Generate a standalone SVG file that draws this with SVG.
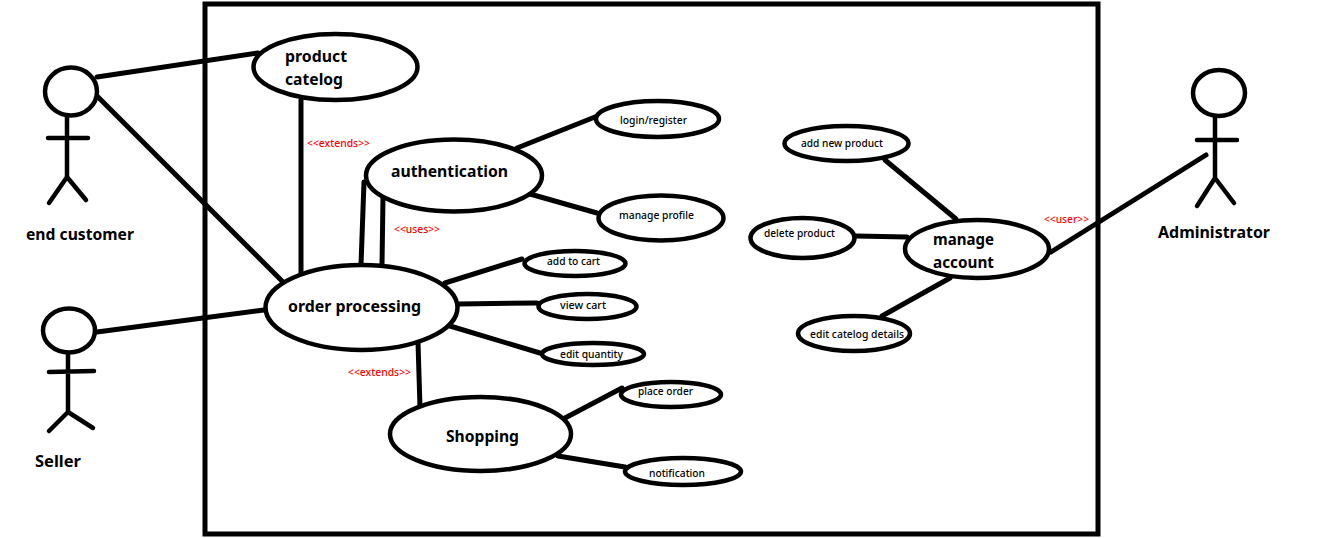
<svg xmlns="http://www.w3.org/2000/svg" width="1319" height="538" viewBox="0 0 1319 538">
<style>
.bg{fill:#fff}
.frame{fill:none;stroke:#000;stroke-width:5}
.c line{stroke:#000;stroke-width:5;stroke-linecap:round}
.n ellipse{fill:#fff;stroke:#000;stroke-width:4.5}
.a ellipse{fill:#fff;stroke:#000;stroke-width:4.5}
.a path{fill:none;stroke:#000;stroke-width:4.5;stroke-linecap:round;stroke-linejoin:round}
text{font-family:"Noto Sans","Open Sans","Liberation Sans",sans-serif;fill:#000}
.l{font-size:16px;font-weight:700}
.s{font-size:10.5px;font-weight:500}
.r{font-size:10.5px;font-weight:500;fill:#f00}
</style>
<rect class="bg" width="1319" height="538"/>
<rect id="system-boundary" class="frame" x="205" y="4" width="893" height="530"/>
<g id="connectors" class="c">
<line x1="97" y1="77" x2="258" y2="53"/>
<line x1="97" y1="96" x2="283" y2="282"/>
<line x1="301" y1="100" x2="301" y2="277"/>
<line x1="97" y1="332" x2="264" y2="310"/>
<line x1="364" y1="182" x2="361" y2="265"/>
<line x1="383" y1="197" x2="382" y2="265"/>
<line x1="517" y1="148" x2="595" y2="117"/>
<line x1="530" y1="194" x2="597" y2="213"/>
<line x1="445" y1="283" x2="522" y2="259"/>
<line x1="459" y1="304" x2="537" y2="303"/>
<line x1="450" y1="326" x2="540" y2="353"/>
<line x1="418" y1="342" x2="420" y2="408"/>
<line x1="565" y1="418" x2="622" y2="388"/>
<line x1="558" y1="456" x2="625" y2="467"/>
<line x1="885" y1="160" x2="956" y2="219"/>
<line x1="856" y1="236" x2="907" y2="237"/>
<line x1="882" y1="316" x2="950" y2="278"/>
<line x1="1051" y1="252" x2="1206" y2="155"/>
</g>
<g id="end-customer" class="a">
<ellipse cx="71" cy="91.5" rx="26" ry="24"/>
<path d="M67 116V177M48 138H88M67 177L49 203M67 177L86 200"/>
<text class="l" x="26" y="240" textLength="108" lengthAdjust="spacingAndGlyphs">end customer</text>
</g>
<g id="seller" class="a">
<ellipse cx="69" cy="330.5" rx="26" ry="22"/>
<path d="M68 353V412M49 372L94 371M68 412L49 431M68 412L93 428"/>
<text class="l" x="35" y="467" textLength="46" lengthAdjust="spacingAndGlyphs">Seller</text>
</g>
<g id="administrator" class="a">
<ellipse cx="1219" cy="93" rx="26" ry="23"/>
<path d="M1215 116V178M1197 140H1237M1215 178L1197 206M1215 178L1234 203"/>
<text class="l" x="1158" y="238" textLength="112" lengthAdjust="spacingAndGlyphs">Administrator</text>
</g>
<g id="product-catelog" class="n">
<ellipse cx="335.5" cy="67" rx="82" ry="33"/>
<text class="l" x="285" y="62" textLength="62" lengthAdjust="spacingAndGlyphs">product</text>
<text class="l" x="285" y="85" textLength="58" lengthAdjust="spacingAndGlyphs">catelog</text>
</g>
<g id="authentication" class="n">
<ellipse cx="454" cy="175.5" rx="88" ry="36"/>
<text class="l" x="391" y="177" textLength="117" lengthAdjust="spacingAndGlyphs">authentication</text>
</g>
<g id="order-processing" class="n">
<ellipse cx="361.5" cy="307.5" rx="96" ry="42.5"/>
<text class="l" x="288" y="312" textLength="133" lengthAdjust="spacingAndGlyphs">order processing</text>
</g>
<g id="shopping" class="n">
<ellipse cx="480.5" cy="434" rx="90.5" ry="37"/>
<text class="l" x="446" y="442" textLength="73" lengthAdjust="spacingAndGlyphs">Shopping</text>
</g>
<g id="login-register" class="n">
<ellipse cx="657.5" cy="119" rx="61.5" ry="18"/>
<text class="s" x="620" y="124" textLength="67" lengthAdjust="spacingAndGlyphs">login/register</text>
</g>
<g id="manage-profile" class="n">
<ellipse cx="661" cy="218" rx="62.5" ry="22.5"/>
<text class="s" x="619" y="219" textLength="75" lengthAdjust="spacingAndGlyphs">manage profile</text>
</g>
<g id="add-to-cart" class="n">
<ellipse cx="575" cy="263.5" rx="50.5" ry="12.5"/>
<text class="s" x="547" y="265" textLength="53" lengthAdjust="spacingAndGlyphs">add to cart</text>
</g>
<g id="view-cart" class="n">
<ellipse cx="587.5" cy="306.5" rx="49" ry="12.5"/>
<text class="s" x="560" y="309" textLength="46" lengthAdjust="spacingAndGlyphs">view cart</text>
</g>
<g id="edit-quantity" class="n">
<ellipse cx="593" cy="354" rx="51" ry="11"/>
<text class="s" x="560" y="358" textLength="63" lengthAdjust="spacingAndGlyphs">edit quantity</text>
</g>
<g id="place-order" class="n">
<ellipse cx="671" cy="394.5" rx="50" ry="12.5"/>
<text class="s" x="638" y="395" textLength="55" lengthAdjust="spacingAndGlyphs">place order</text>
</g>
<g id="notification" class="n">
<ellipse cx="683" cy="471.5" rx="58" ry="13.5"/>
<text class="s" x="649" y="477" textLength="56" lengthAdjust="spacingAndGlyphs">notification</text>
</g>
<g id="add-new-product" class="n">
<ellipse cx="846.5" cy="143.5" rx="62" ry="17.5"/>
<text class="s" x="801" y="147" textLength="82" lengthAdjust="spacingAndGlyphs">add new product</text>
</g>
<g id="delete-product" class="n">
<ellipse cx="802.5" cy="238" rx="52" ry="20"/>
<text class="s" x="764" y="237" textLength="71" lengthAdjust="spacingAndGlyphs">delete product</text>
</g>
<g id="manage-account" class="n">
<ellipse cx="977" cy="249" rx="72" ry="29"/>
<text class="l" x="933" y="245" textLength="61" lengthAdjust="spacingAndGlyphs">manage</text>
<text class="l" x="933" y="268" textLength="61" lengthAdjust="spacingAndGlyphs">account</text>
</g>
<g id="edit-catelog-details" class="n">
<ellipse cx="854" cy="333.5" rx="56" ry="17.5"/>
<text class="s" x="810" y="338" textLength="94" lengthAdjust="spacingAndGlyphs">edit catelog details</text>
</g>
<g id="labels">
<text class="r" x="307" y="147" textLength="63" lengthAdjust="spacingAndGlyphs">&lt;&lt;extends&gt;&gt;</text>
<text class="r" x="394" y="233" textLength="46" lengthAdjust="spacingAndGlyphs">&lt;&lt;uses&gt;&gt;</text>
<text class="r" x="348" y="376" textLength="63" lengthAdjust="spacingAndGlyphs">&lt;&lt;extends&gt;&gt;</text>
<text class="r" x="1044" y="223" textLength="45" lengthAdjust="spacingAndGlyphs">&lt;&lt;user&gt;&gt;</text>
</g>
</svg>
